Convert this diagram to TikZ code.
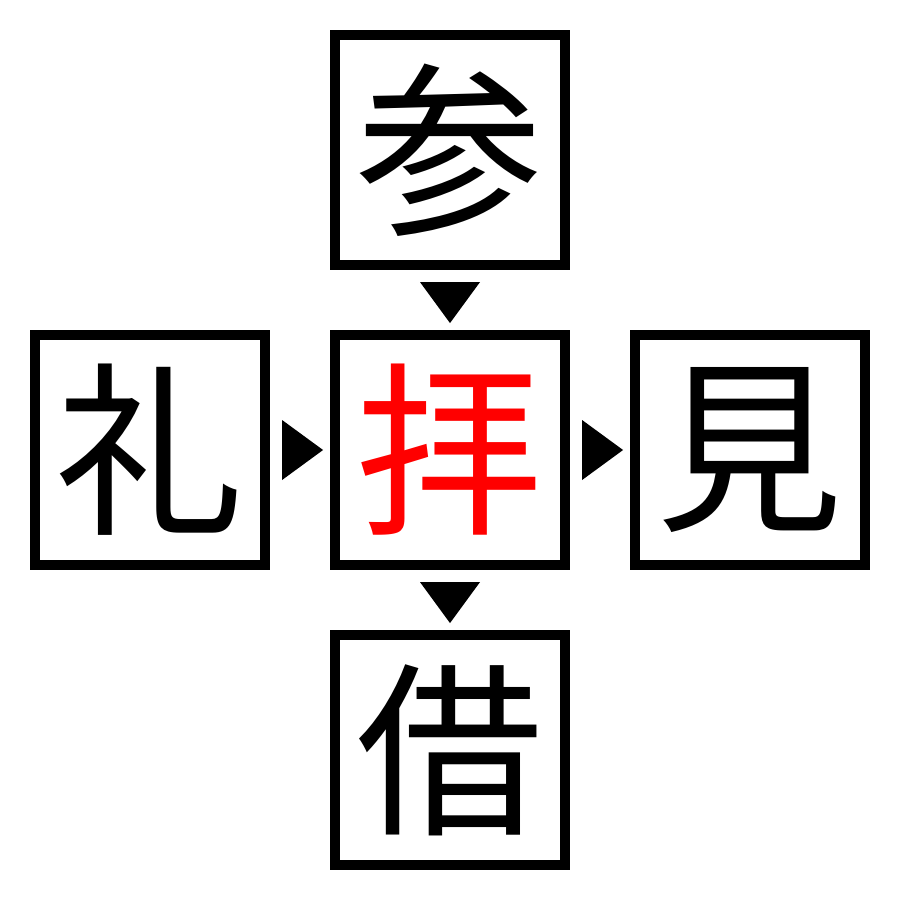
\documentclass[tikz,border=0pt]{standalone}
\usepackage{fontspec}
\newfontfamily\cjk{Noto Sans CJK JP}
\usetikzlibrary{calc}
\begin{document}
\begin{tikzpicture}[x=0.01cm,y=-0.01cm,
  kbox/.style={draw=black,line width=0.1cm,minimum size=2.3cm,inner sep=0pt,outer sep=0pt,font=\cjk\fontsize{53}{53}\selectfont},
  tri/.style={fill=black}]
\useasboundingbox (0,0) rectangle (900,900);
\fill[white] (0,0) rectangle (900,900);
\node[kbox] (t) at (450,150) {参};
\node[kbox] (l) at (150,450) {礼};
\node[kbox,text=red] (c) at (450,450) {拝};
\node[kbox] (r) at (750,450) {見};
\node[kbox] (b) at (450,750) {借};
% triangles
\fill[tri] ($(t.south)+(-30,17)$) -- ($(t.south)+(30,17)$) -- ($(t.south)+(0,58)$) -- cycle;
\fill[tri] ($(c.south)+(-30,17)$) -- ($(c.south)+(30,17)$) -- ($(c.south)+(0,58)$) -- cycle;
\fill[tri] ($(l.east)+(17,-30)$) -- ($(l.east)+(17,30)$) -- ($(l.east)+(58,0)$) -- cycle;
\fill[tri] ($(c.east)+(17,-30)$) -- ($(c.east)+(17,30)$) -- ($(c.east)+(58,0)$) -- cycle;
\end{tikzpicture}
\end{document}
